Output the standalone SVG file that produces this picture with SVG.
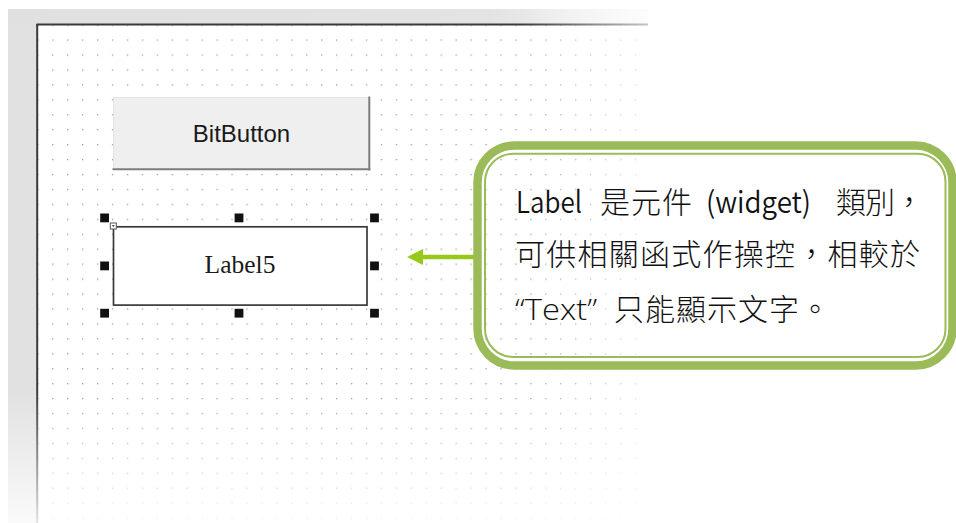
<svg xmlns="http://www.w3.org/2000/svg" width="956" height="523" viewBox="0 0 956 523">
  <defs>
    <style>
      .cjk { font-family: "Noto Sans CJK TC", "Noto Sans", sans-serif; font-size: 30px; font-weight: 300; fill: #111; }
      .latn { font-family: "Noto Sans CJK TC", "Noto Sans", sans-serif; font-size: 30px; font-weight: 350; fill: #111; }
      .lat { font-family: "Open Sans", "Noto Sans CJK TC", sans-serif; font-size: 29px; font-weight: 350; fill: #111; }
      .handle { fill: #111; }
      .green-thick { fill: none; stroke: #9bbb59; stroke-width: 8.5; }
      .green-thin { fill: none; stroke: #9bbb59; stroke-width: 2; }
    </style>
    <pattern id="grid" x="37.2" y="24.5" width="14.94" height="14.94" patternUnits="userSpaceOnUse">
      <rect x="0" y="0" width="1.3" height="1.3" fill="#9c9c9c"/>
    </pattern>
    <linearGradient id="topStrip" x1="8" y1="0" x2="648" y2="0" gradientUnits="userSpaceOnUse">
      <stop offset="0" stop-color="#e0e0e0"/>
      <stop offset="0.75" stop-color="#e3e3e3"/>
      <stop offset="1" stop-color="#f6f6f6"/>
    </linearGradient>
    <linearGradient id="fadeBottom" x1="0" y1="390" x2="0" y2="523" gradientUnits="userSpaceOnUse">
      <stop offset="0" stop-color="#fff" stop-opacity="0"/>
      <stop offset="1" stop-color="#fff" stop-opacity="0.85"/>
    </linearGradient>
    <linearGradient id="fadeRight" x1="520" y1="0" x2="648" y2="0" gradientUnits="userSpaceOnUse">
      <stop offset="0" stop-color="#fff" stop-opacity="0"/>
      <stop offset="1" stop-color="#fff" stop-opacity="0.7"/>
    </linearGradient>
    <marker id="arrowHead" viewBox="0 0 16 16" refX="0" refY="8" markerWidth="16" markerHeight="16" markerUnits="userSpaceOnUse" orient="auto">
      <path d="M0,0 L16,8 L0,16 Z" fill="#97c91a"/>
    </marker>
  </defs>

  <rect x="0" y="0" width="956" height="523" fill="#ffffff"/>

  <g id="form-background">
    <rect x="8" y="9" width="640" height="514" fill="#e1e1e1"/>
    <rect x="8" y="9" width="640" height="15.5" fill="url(#topStrip)"/>
    <rect x="37" y="24" width="611" height="499" fill="#ffffff"/>
    <rect x="37" y="24" width="611" height="499" fill="url(#grid)"/>
    <line x1="36.5" y1="24.5" x2="648" y2="24.5" stroke="#3a3a3a" stroke-width="2"/>
    <line x1="37.2" y1="24" x2="37.2" y2="523" stroke="#3a3a3a" stroke-width="2"/>
    <rect x="8" y="9" width="640" height="514" fill="url(#fadeRight)"/>
    <rect x="8" y="390" width="640" height="133" fill="url(#fadeBottom)"/>
  </g>

  <g id="bitbutton">
    <rect x="113" y="97" width="256" height="72" fill="#efefef"/>
    <line x1="113" y1="97.5" x2="369" y2="97.5" stroke="#e4e4e4" stroke-width="1"/>
    <line x1="113.5" y1="97" x2="113.5" y2="169" stroke="#e4e4e4" stroke-width="1"/>
    <line x1="369.3" y1="96.5" x2="369.3" y2="170.5" stroke="#7d7d7d" stroke-width="2"/>
    <line x1="112.5" y1="169.3" x2="370.3" y2="169.3" stroke="#7d7d7d" stroke-width="2"/>
    <text x="241.5" y="141.5" text-anchor="middle" font-family="Liberation Sans, Arial, sans-serif" font-size="24" fill="#1a1a1a">BitButton</text>
  </g>

  <g id="label5">
    <rect x="113.5" y="226.8" width="253.5" height="78.3" fill="#ffffff" stroke="#3a3a3a" stroke-width="1.7"/>
    <text x="240" y="273" text-anchor="middle" font-family="Liberation Serif, Times New Roman, serif" font-size="25.5" fill="#1a1a1a">Label5</text>
    <rect class="handle" x="100.2" y="213.5" width="8.8" height="8.8"/>
    <rect class="handle" x="234.6" y="213.5" width="8.8" height="8.8"/>
    <rect class="handle" x="370.1" y="213.5" width="8.8" height="8.8"/>
    <rect class="handle" x="100.2" y="261.5" width="8.8" height="8.8"/>
    <rect class="handle" x="370.1" y="261.5" width="8.8" height="8.8"/>
    <rect class="handle" x="100.2" y="308.8" width="8.8" height="8.8"/>
    <rect class="handle" x="234.6" y="308.8" width="8.8" height="8.8"/>
    <rect class="handle" x="370.1" y="308.8" width="8.8" height="8.8"/>
    <rect x="110.3" y="223" width="6" height="6" fill="#ffffff" stroke="#555" stroke-width="1"/>
    <path d="M111.8,225 L114.8,225 L113.3,227.3 Z" fill="#555"/>
  </g>

  <g id="connectors">
    <line x1="476" y1="257" x2="423" y2="257" stroke="#97c91a" stroke-width="4.5" marker-end="url(#arrowHead)"/>
  </g>

  <g id="callout">
    <rect class="green-thick" x="477.5" y="145.5" width="475" height="220" rx="37" ry="37" fill="#ffffff"/>
    <rect class="green-thin" x="485" y="153.8" width="460.5" height="203.2" rx="28" ry="28" fill="#ffffff"/>
    <text class="latn" x="516" y="213.3" textLength="66" lengthAdjust="spacingAndGlyphs">Label</text>
    <text class="cjk" x="600" y="213.3" textLength="92" lengthAdjust="spacing">是元件</text>
    <text class="latn" x="706" y="213.3" textLength="105" lengthAdjust="spacingAndGlyphs">(widget)</text>
    <text class="cjk" x="836" y="213.3" textLength="88" lengthAdjust="spacing">類別，</text>
    <text class="cjk" x="515" y="264.5" textLength="405" lengthAdjust="spacing">可供相關函式作操控，相較於</text>
    <text class="lat" x="515" y="320" textLength="82" lengthAdjust="spacingAndGlyphs">“Text”</text>
    <text class="cjk" x="614" y="320" textLength="216" lengthAdjust="spacing">只能顯示文字。</text>
  </g>
</svg>
